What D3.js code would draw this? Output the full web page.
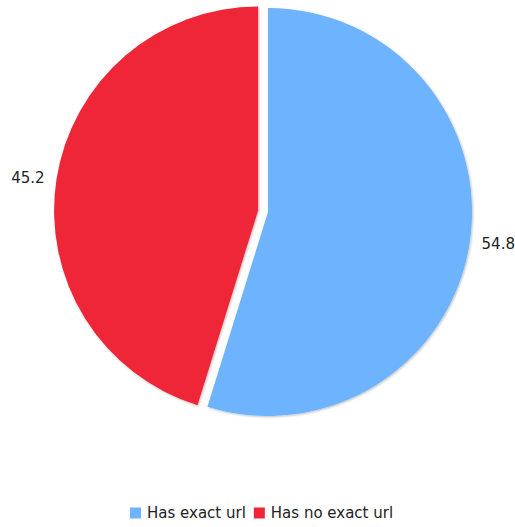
<!DOCTYPE html>
<html><head><meta charset="utf-8">
<script src="https://cdn.jsdelivr.net/npm/d3@7"></script>
<style>html,body{margin:0;padding:0;background:#fff;}</style>
</head><body>
<svg id="c" width="515" height="527"></svg>
<script>
const categories = ["Has exact url", "Has no exact url"];
const values = [54.8, 45.2];
const colors = ["#6db3fe", "#ef2538"];
const sliced = [false, true];

const svg = d3.select("#c");
const font = "DejaVu Sans, Verdana, sans-serif";
const cx = 268, cy = 212, r = 204, explode = 10, labelR = 216;

const defs = svg.append("defs");
const f = defs.append("filter").attr("id","sh").attr("x","-10%").attr("y","-10%").attr("width","120%").attr("height","120%");
f.append("feDropShadow").attr("dx",1).attr("dy",1).attr("stdDeviation",1.2).attr("flood-color","#000").attr("flood-opacity",0.25);

const pie = d3.pie().sort(null).value(d => d)(values);
const arc = d3.arc().innerRadius(0).outerRadius(r);

const g = svg.append("g").attr("transform", `translate(${cx},${cy})`);
pie.forEach((p, i) => {
  const mid = (p.startAngle + p.endAngle) / 2;
  const off = sliced[i] ? explode : 0;
  const ox = Math.sin(mid) * off, oy = -Math.cos(mid) * off;
  const sg = g.append("g").attr("transform", `translate(${ox},${oy})`);
  sg.append("path").attr("d", arc(p)).attr("fill", colors[i]).attr("filter","url(#sh)");
  const lx = Math.sin(mid) * labelR, ly = -Math.cos(mid) * labelR;
  sg.append("text").attr("x", lx).attr("y", ly)
    .attr("text-anchor", Math.sin(mid) >= 0 ? "start" : "end")
    .attr("dominant-baseline", "central")
    .attr("font-family", font).attr("font-size", 15).attr("fill", "#222")
    .text(values[i].toFixed(1));
});

// legend
const lg = svg.append("g").attr("transform", "translate(0,513)");
let x = 0;
const items = [];
categories.forEach((c, i) => {
  const it = lg.append("g");
  it.append("rect").attr("x", 0).attr("y", -5.5).attr("width", 11).attr("height", 11).attr("fill", colors[i]);
  const t = it.append("text").attr("x", 17).attr("y", 0).attr("dominant-baseline","central")
    .attr("font-family", font).attr("font-size", 15).attr("fill", "#222").text(c);
  items.push({it, w: 17 + t.node().getComputedTextLength()});
});
const gap = 8;
const total = items.reduce((s, d) => s + d.w, 0) + gap * (items.length - 1);
x = 130;
items.forEach(d => { d.it.attr("transform", `translate(${x},0)`); x += d.w + gap; });
</script>
</body></html>
